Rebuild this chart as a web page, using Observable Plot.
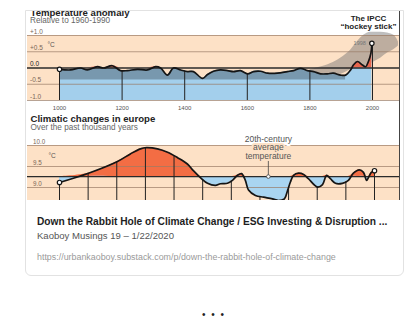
<!DOCTYPE html>
<html><head><meta charset="utf-8">
<script src="https://cdn.jsdelivr.net/npm/d3@7"></script>
<script src="https://cdn.jsdelivr.net/npm/@observablehq/plot@0.6"></script>
<style>
html,body{margin:0;padding:0;background:#fff;width:413px;height:329px;overflow:hidden;font-family:"Liberation Sans",Arial,sans-serif;}
#img{position:absolute;left:25px;top:10px;width:375px;height:190px;overflow:hidden;border-right:1px solid #444;box-sizing:border-box;background:#fff}
#top,#bot{position:absolute;left:0;width:374px}
#top{top:0;height:100px}
#bot{top:100px;height:90px}
#card{position:absolute;left:25px;top:10px;width:379px;height:266px;box-sizing:border-box;border:1px solid #e2e2e2;border-radius:0 0 6px 6px;pointer-events:none}
.tx{position:absolute;white-space:nowrap}
#t1{left:37px;top:217.4px;font:bold 10.2px/10.2px "Liberation Sans",Arial,sans-serif;color:#1e1e1e}
#t2{left:37px;top:231.4px;font:9.55px/9.55px "Liberation Sans",Arial,sans-serif;color:#555}
#t3{left:37px;top:252.5px;font:8.9px/8.9px "Liberation Sans",Arial,sans-serif;color:#9a9a9a}
#dots{left:202px;top:309.5px;font:10px/10px "Liberation Sans",Arial,sans-serif;color:#222;letter-spacing:5.7px}
svg{overflow:hidden}
</style></head>
<body>
<div id="img"><div id="top"></div><div id="bot"></div></div>
<div id="card"></div>
<div class="tx" id="t1">Down the Rabbit Hole of Climate Change / ESG Investing &amp; Disruption ...</div>
<div class="tx" id="t2">Kaoboy Musings 19 – 1/22/2020</div>
<div class="tx" id="t3">https://urbankaoboy.substack.com/p/down-the-rabbit-hole-of-climate-change</div>
<div class="tx" id="dots">•••</div>
<script>
// ---------- Top panel: temperature anomaly ----------
const topYears = [1000,1035,1067,1089,1121,1141,1169,1195,1217,1249,1281,1307,1323,1345,1364,1387,1409,1428,1457,1473,1492,1514,1537,1556,1578,1601,1620,1642,1665,1696,1728,1748,1770,1792,1812,1834,1856,1875,1898,1914,1930,1939,1952,1968,1978,1987,1995,1998];
const topAnom  = [-0.04,-0.06,0.0,-0.06,0.04,0.0,0.07,-0.08,-0.08,-0.04,-0.06,0.04,0.0,-0.22,0.0,-0.06,-0.11,-0.11,-0.32,-0.2,-0.1,-0.06,-0.08,-0.11,-0.08,-0.18,-0.11,-0.1,-0.16,-0.16,-0.11,-0.08,-0.01,-0.08,-0.11,-0.18,-0.18,-0.16,-0.22,-0.22,-0.06,0.09,0.2,0.09,0.04,0.2,0.46,0.76];
const bladeYears = [1800,1856,1898,1930,1962,1984,2003,2026,2048,2070,2083];
const bladeLo    = [-0.2,-0.25,-0.2,-0.05,0.03,0.1,0.18,0.3,0.46,0.58,0.68];
const bladeHi    = [-0.05,0.09,0.3,0.55,0.92,1.08,1.1,1.1,1.08,1.0,0.8];
const shadeFloor = -0.37;
const shadeEnd = 1914;
const topTicks = [1000,1200,1400,1600,1800,2000];
const topGrid = [1,0.5,-0.5,-1];
const topLabelValues = [1,0.5,0,-0.5,-1];
const topLabels = ["+1.0","+0.5","0.0","-0.5","-1.0"];
const hockeyLabel = ["The IPCC","\u201Chockey stick\u201D"];
const hockeyYear = 1987;

// ---------- Bottom panel: climatic changes in Europe ----------
const lowYears = [1000,1092,1184,1225,1257,1276,1311,1343,1375,1406,1425,1448,1470,1495,1511,1533,1549,1565,1578,1590,1600,1622,1648,1676,1695,1714,1724,1733,1743,1759,1775,1790,1819,1835,1848,1860,1876,1898,1917,1933,1952,1965,1975,1981,1990,2000];
const lowTemps = [9.12,9.34,9.62,9.80,9.92,9.95,9.92,9.84,9.71,9.56,9.40,9.23,9.10,9.05,9.09,9.10,9.17,9.29,9.33,9.17,8.94,8.81,8.77,8.73,8.69,8.73,8.93,9.13,9.29,9.34,9.31,9.21,9.01,9.07,9.29,9.21,9.10,9.10,9.17,9.34,9.42,9.36,9.17,9.24,9.36,9.40];
const lowAvg = 9.26;
const lowFloor = 8.6;
const lowGrid = [10,9.5,9];
const lowLabels = ["10.0","9.5","9.0"];
const lowSegments = 11;
const noteYear = 1663, noteTop = 9.62;

const PEACH = "#fde1c6", BLUE = "#a3cfec", BLUE2 = "#a9d5f1", RED = "#e8664e", RED2 = "#f36d44";
const GRID = "#9a7b66", INK = "#151515";
const FONT = "'Liberation Sans', Arial, sans-serif";

function at(xs, ys, x) {
  if (x <= xs[0]) return ys[0];
  for (let i = 1; i < xs.length; i++) {
    if (x <= xs[i]) { const t = (x - xs[i-1]) / (xs[i] - xs[i-1]); return ys[i-1] + t * (ys[i] - ys[i-1]); }
  }
  return ys[ys.length - 1];
}

const topData = topYears.map((year, i) => ({year, v: topAnom[i]}));
const bladeData = bladeYears.map((year, i) => ({year, lo: bladeLo[i], hi: bladeHi[i]}));
const lowData = lowYears.map((year, i) => ({year, t: lowTemps[i]}));
const lowTicks = d3.range(lowSegments + 1).map(i => 1000 + i * 1000 / lowSegments);
const curve = "catmull-rom";

const topPlot = Plot.plot({
  width: 374, height: 100, margin: 0,
  x: {domain: [1000, 2000], range: [34, 347], axis: null},
  y: {domain: [-1, 1], range: [90, 25], axis: null},
  style: {fontFamily: FONT, background: "transparent", overflow: "hidden"},
  marks: [
    Plot.rect([0], {y1: 1, y2: -1, fill: PEACH, insetLeft: 2}),
    Plot.areaY(bladeData, {x: "year", y1: "lo", y2: "hi", fill: "#6f6f6f", fillOpacity: 0.45, curve}),
    Plot.areaY(topData, {x: "year", y1: -1, y2: "v", fill: BLUE, curve}),
    Plot.areaY(topData.filter(d => d.year <= shadeEnd), {x: "year", y1: shadeFloor, y2: "v", fill: "#3f4c58", fillOpacity: 0.42, curve}),
    Plot.areaY(topData, {x: "year", y1: 0, y2: d => Math.max(0, d.v), fill: RED, curve}),
    Plot.ruleY(topGrid, {stroke: GRID, strokeWidth: 0.7, insetLeft: 2}),
    Plot.ruleY([0], {stroke: "#2a2a2a", strokeWidth: 1.3, insetLeft: 2}),
    Plot.ruleX(topTicks, {x: d => d, y1: -1, y2: d => at(topYears, topAnom, d), stroke: "#222", strokeWidth: 1}),
    Plot.line(topData, {x: "year", y: "v", stroke: INK, strokeWidth: 1.7, curve}),
    Plot.dot([topData[0], topData[topData.length - 1]], {x: "year", y: "v", r: 2.2, fill: "white", stroke: INK, strokeWidth: 1.2}),
    Plot.text([topData[topData.length - 1]], {x: "year", y: "v", text: d => String(d.year), dx: -6, textAnchor: "end", fontSize: 5.5, fill: "#777"}),
    Plot.text(topTicks, {x: d => d, y: -1, text: d => String(d), dy: 9, lineAnchor: "bottom", fontSize: 6, fill: "#555"}),
    Plot.text(topLabelValues, {y: d => d, text: (d, i) => topLabels[i], frameAnchor: "left", dx: 4.5, dy: -2, lineAnchor: "bottom", textAnchor: "start", fontSize: 6.5, fill: d => d === 0 ? "#222" : "#7a6656", fontWeight: d => d === 0 ? "bold" : "normal"}),
    Plot.text(["°C"], {frameAnchor: "top-left", dx: 22, dy: 36.5, lineAnchor: "bottom", textAnchor: "start", fontSize: 6.5, fill: "#555"}),
    Plot.text(["Temperature anomaly"], {frameAnchor: "top-left", dx: 5, dy: 5.5, lineAnchor: "bottom", textAnchor: "start", fontSize: 9.6, fontWeight: "bold", fill: "#222"}),
    Plot.text(["Relative to 1960-1990"], {frameAnchor: "top-left", dx: 4.5, dy: 12.7, lineAnchor: "bottom", textAnchor: "start", fontSize: 8.2, fill: "#666"}),
    Plot.text([hockeyLabel.join("\n")], {x: hockeyYear, y: 1, dy: -6.5, lineAnchor: "bottom", lineHeight: 0.95, textAnchor: "middle", fontSize: 8, fontWeight: "bold", fill: "#222"})
  ]
});
document.getElementById("top").appendChild(topPlot);

const lowPlot = Plot.plot({
  width: 374, height: 90, margin: 0,
  x: {domain: [1000, 2000], range: [34, 349], axis: null},
  y: {domain: [9, 10], range: [77, 35], axis: null},
  style: {fontFamily: FONT, background: "transparent", overflow: "hidden"},
  marks: [
    Plot.rect([0], {y1: 10, y2: lowFloor, fill: PEACH, insetLeft: 2}),
    Plot.areaY(lowData, {x: "year", y1: lowAvg, y2: d => Math.max(lowAvg, d.t), fill: RED2, curve}),
    Plot.areaY(lowData, {x: "year", y1: lowAvg, y2: d => Math.min(lowAvg, d.t), fill: BLUE2, curve}),
    Plot.ruleY(lowGrid, {stroke: GRID, strokeWidth: 0.7, insetLeft: 2}),
    Plot.ruleY([lowAvg], {stroke: "#2a2a2a", strokeWidth: 1.2, insetLeft: 2}),
    Plot.ruleX(lowTicks, {x: d => d, y1: lowFloor, y2: d => at(lowYears, lowTemps, d), stroke: "#222", strokeWidth: 1}),
    Plot.text(["20th-century"], {x: noteYear, y: lowAvg, dy: -34.6, lineAnchor: "bottom", textAnchor: "middle", fontSize: 8.5, fill: "#555", stroke: "white", strokeWidth: 4, paintOrder: "stroke"}),
    Plot.text(["average\ntemperature"], {x: noteYear, y: lowAvg, dy: -17.6, lineAnchor: "bottom", lineHeight: 1, textAnchor: "middle", fontSize: 8.5, fill: "#555", stroke: PEACH, strokeWidth: 4, paintOrder: "stroke"}),
    Plot.ruleX([noteYear], {x: d => d, y1: lowAvg, y2: noteTop, stroke: "#444", strokeWidth: 0.8}),
    Plot.dot([noteYear], {x: d => d, y: lowAvg, r: 1.8, fill: "white", stroke: "#444", strokeWidth: 0.8}),
    Plot.line(lowData, {x: "year", y: "t", stroke: INK, strokeWidth: 1.7, curve}),
    Plot.dot([lowData[0], lowData[lowData.length - 1]], {x: "year", y: "t", r: 2.2, fill: "white", stroke: INK, strokeWidth: 1.2}),
    Plot.text(lowGrid, {y: d => d, text: (d, i) => lowLabels[i], frameAnchor: "left", dx: 7.5, dy: -2, lineAnchor: "bottom", textAnchor: "start", fontSize: 6.3, fill: "#7a6656"}),
    Plot.text(["°C"], {frameAnchor: "top-left", dx: 23, dy: 47, lineAnchor: "bottom", textAnchor: "start", fontSize: 6.5, fill: "#555"}),
    Plot.text(["Climatic changes in europe"], {frameAnchor: "top-left", dx: 5, dy: 11, lineAnchor: "bottom", textAnchor: "start", fontSize: 9.6, fontWeight: "bold", fill: "#222"}),
    Plot.text(["Over the past thousand years"], {frameAnchor: "top-left", dx: 5, dy: 19.5, lineAnchor: "bottom", textAnchor: "start", fontSize: 8.2, fill: "#666"})
  ]
});
document.getElementById("bot").appendChild(lowPlot);
</script>
</body></html>
